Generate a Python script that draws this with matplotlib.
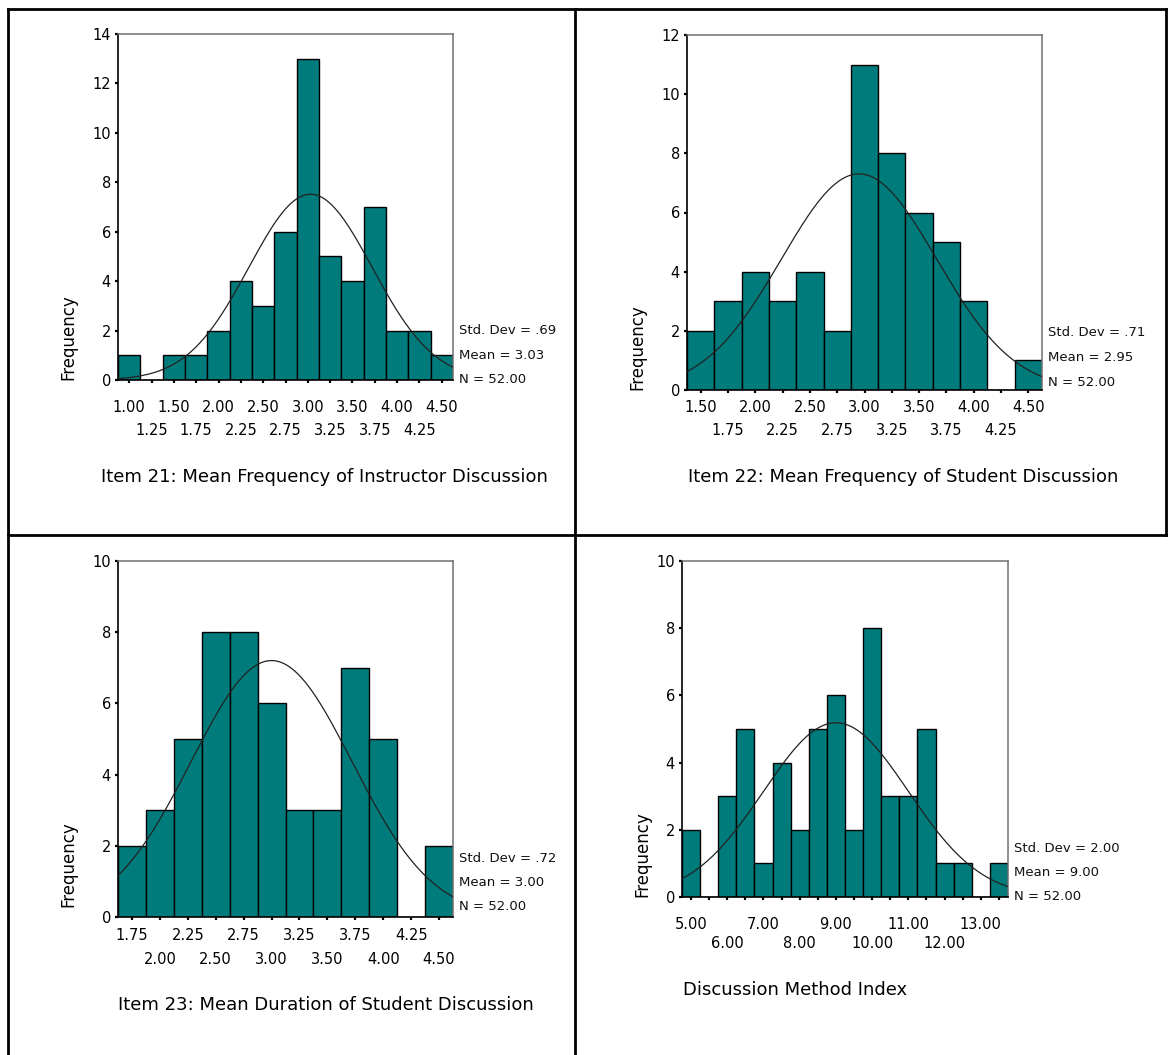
import numpy as np
import matplotlib
matplotlib.use("Agg")
import matplotlib.pyplot as plt
from matplotlib.lines import Line2D

W, H = 1168, 1055
BAR = "#007b7b"

# Item 21: mean frequency of instructor discussion
i21_centers = [1.00, 1.25, 1.50, 1.75, 2.00, 2.25, 2.50, 2.75, 3.00, 3.25, 3.50, 3.75, 4.00, 4.25, 4.50]
i21_counts = [1, 0, 1, 1, 2, 4, 3, 6, 13, 5, 4, 7, 2, 2, 1]
i21_stats = (0.69, 3.03, 52)

# Item 22: mean frequency of student discussion
i22_centers = [1.50, 1.75, 2.00, 2.25, 2.50, 2.75, 3.00, 3.25, 3.50, 3.75, 4.00, 4.25, 4.50]
i22_counts = [2, 3, 4, 3, 4, 2, 11, 8, 6, 5, 3, 0, 1]
i22_stats = (0.71, 2.95, 52)

# Item 23: mean duration of student discussion
i23_centers = [1.75, 2.00, 2.25, 2.50, 2.75, 3.00, 3.25, 3.50, 3.75, 4.00, 4.25, 4.50]
i23_counts = [2, 3, 5, 8, 8, 6, 3, 3, 7, 5, 0, 2]
i23_stats = (0.72, 3.00, 52)

# Discussion method index
dmi_centers = [5.0, 5.5, 6.0, 6.5, 7.0, 7.5, 8.0, 8.5, 9.0, 9.5, 10.0, 10.5, 11.0, 11.5, 12.0, 12.5, 13.0, 13.5]
dmi_counts = [2, 0, 3, 5, 1, 4, 2, 5, 6, 2, 8, 3, 3, 5, 1, 1, 0, 1]
dmi_stats = (2.00, 9.00, 52)
dmi_top_labels = [5.0, 7.0, 9.0, 11.0, 13.0]
dmi_bottom_labels = [6.0, 8.0, 10.0, 12.0]

titles = [
    "Item 21: Mean Frequency of Instructor Discussion",
    "Item 22: Mean Frequency of Student Discussion",
    "Item 23: Mean Duration of Student Discussion",
    "Discussion Method Index",
]

plt.rcParams["font.family"] = "DejaVu Sans"

fig = plt.figure(figsize=(W / 100, H / 100), dpi=100)


def fx(x):
    return x / W


def fy(y):
    return 1 - y / H


def px_axes(l, t, r, b):
    return fig.add_axes([fx(l), fy(b), (r - l) / W, (b - t) / H])


def histogram(ax, centers, counts, stats, ymax, top_vals, bottom_vals,
              top_pad, bottom_pad):
    centers = np.asarray(centers)
    width = centers[1] - centers[0]
    ax.bar(centers, counts, width=width, color=BAR, edgecolor="black",
           linewidth=1.0, zorder=2)

    # fitted normal curve from the reported mean / sd / N
    sd, mean, n = stats
    lo, hi = centers[0] - width / 2, centers[-1] + width / 2
    xs = np.linspace(lo, hi, 300)
    ys = n * width / (sd * np.sqrt(2 * np.pi)) * np.exp(-0.5 * ((xs - mean) / sd) ** 2)
    ax.plot(xs, ys, color="#222222", lw=0.9, zorder=3)

    ax.set_xlim(lo, hi)
    ax.set_ylim(0, ymax)
    ax.set_yticks(np.arange(0, ymax + 1, 2))
    ax.tick_params(axis="y", direction="out", length=2.5, width=1.6,
                   pad=2.5, labelsize=10.5)

    # every bin gets a tick mark; labels alternate on two rows
    ax.xaxis.remove_overlapping_locs = False
    ax.set_xticks(centers, labels=[f"{c:.2f}" if c in top_vals else "" for c in centers])
    ax.set_xticks(bottom_vals, labels=[f"{c:.2f}" for c in bottom_vals], minor=True)
    ax.tick_params(axis="x", which="major", direction="out", length=2.5,
                   width=1.6, pad=top_pad, labelsize=10.5)
    ax.tick_params(axis="x", which="minor", length=0, pad=bottom_pad,
                   labelsize=10.5)

    for side in ("left", "bottom"):
        ax.spines[side].set_color("black")
        ax.spines[side].set_linewidth(1.2)
    for side in ("top", "right"):
        ax.spines[side].set_color("#707070")
        ax.spines[side].set_linewidth(1.1)


def stats_text(x, y_bottom, stats):
    sd, mean, n = stats
    sd_txt = f"{sd:.2f}".lstrip("0") if sd < 1 else f"{sd:.2f}"
    lines = [f"Std. Dev = {sd_txt}", f"Mean = {mean:.2f}", f"N = {n:.2f}"]
    for k, line in enumerate(reversed(lines)):
        fig.text(fx(x), fy(y_bottom - k * 24.5), line, fontsize=9.5,
                 ha="left", va="center", color="#111111")


def freq_label(x, y_bottom):
    fig.text(fx(x), fy(y_bottom), "Frequency", rotation=90, fontsize=12,
             ha="center", va="bottom")


ax1 = px_axes(118, 34, 453, 380)
histogram(ax1, i21_centers, i21_counts, i21_stats, 14,
          i21_centers[::2], i21_centers[1::2], 11.9, 31)
freq_label(68, 380)
stats_text(459, 380, i21_stats)
fig.text(fx(101), fy(477), titles[0], fontsize=13, ha="left", va="center")

ax2 = px_axes(687, 35, 1042, 390)
histogram(ax2, i22_centers, i22_counts, i22_stats, 12,
          i22_centers[::2], i22_centers[1::2], 4.7, 23.8)
freq_label(637, 390)
stats_text(1048, 382, i22_stats)
fig.text(fx(688), fy(477), titles[1], fontsize=13, ha="left", va="center")

ax3 = px_axes(118, 561, 453, 917)
histogram(ax3, i23_centers, i23_counts, i23_stats, 10,
          i23_centers[::2], i23_centers[1::2], 5.4, 25.2)
freq_label(68, 907)
stats_text(459, 907, i23_stats)
fig.text(fx(118), fy(1005), titles[2], fontsize=13, ha="left", va="center")

ax4 = px_axes(682, 561, 1008, 897)
histogram(ax4, dmi_centers, dmi_counts, dmi_stats, 10,
          dmi_top_labels, dmi_bottom_labels, 11.9, 28)
freq_label(642, 897)
stats_text(1014, 897, dmi_stats)
fig.text(fx(683), fy(990), titles[3], fontsize=13, ha="left", va="center")

# table frame around the four panels
frame = [
    ((8, 8), (9, 1055)),
    ((8, 1166), (9, 9)),
    ((1166, 1166), (9, 535)),
    ((575, 575), (9, 1055)),
    ((8, 1168), (535, 535)),
]
for xs_, ys_ in frame:
    fig.add_artist(Line2D([fx(v) for v in xs_], [fy(v) for v in ys_],
                          color="black", lw=2.0, transform=fig.transFigure))

fig.savefig("out.png", dpi=100, facecolor="white")
plt.close(fig)
